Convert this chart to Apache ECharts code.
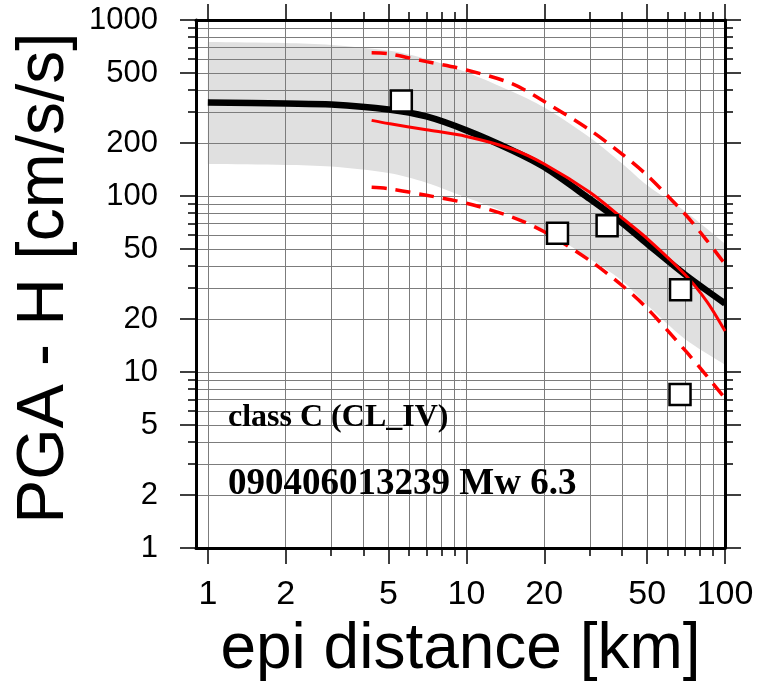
<!DOCTYPE html>
<html>
<head>
<meta charset="utf-8">
<script src="https://cdn.jsdelivr.net/npm/echarts@6/dist/echarts.min.js"></script>
<style>
  html, body { margin: 0; padding: 0; background: #fff; }
  #chart { width: 776px; height: 687px; }
</style>
</head>
<body>
<div id="chart"></div>
<script>
// Tick / gridline values (log axes)
const xMajorTicks = [1, 2, 5, 10, 20, 50, 100];
const xMinorTicks = [3, 4, 6, 7, 8, 9, 30, 40, 60, 70, 80, 90];
const yMajorTicks = [1, 2, 5, 10, 20, 50, 100, 200, 500, 1000];
const yMinorTicks = [3, 4, 6, 7, 8, 9, 30, 40, 60, 70, 80, 90, 300, 400, 600, 700, 800, 900];

// GMPE median and +/- sigma band (cm/s/s) vs epicentral distance (km)
const gmpeDistance = [1, 2, 3, 5, 7, 10, 15, 20, 30, 40, 50, 70, 100];
const gmpeMedian   = [340, 335, 331, 310, 283, 236, 182, 146, 96.2, 70.4, 53.5, 35.8, 24.5];
const bandUpper    = [751, 741, 722, 670, 600, 505, 392, 318, 215, 153, 115, 82, 53.6];
const bandLower    = [152, 150, 147, 135, 119, 98, 78, 64, 44, 33, 24, 15.4, 11];

// Regression fit (solid) and its +/- sigma (dashed)
const fitDistance  = [4.3, 5, 7, 10, 15, 20, 30, 40, 50, 70, 85, 100];
const fitMedian    = [269, 258, 238, 218, 185, 152, 105, 75, 57.3, 35.8, 25.2, 17.1];
const fitUpper     = [651, 643, 580, 520, 435, 344, 237, 173, 131, 79, 56, 41];
const fitLower     = [112, 110, 101, 91, 76, 62.6, 43, 31, 23, 13.3, 9.5, 7.1];

// Recorded stations: distance (km), PGA (cm/s/s)
const stationDistance = [5.6, 22.5, 35.0, 67.3, 67.0];
const stationPGA      = [346, 61.4, 67.7, 29.3, 7.46];

const pairs = (xs, ys) => xs.map((x, i) => [x, ys[i]]);

const chart = echarts.init(document.getElementById('chart'), null, { renderer: 'canvas' });

const tickStyle = { color: '#000', width: 1.5 };
const gridStyle = { color: '#7c7c7c', width: 1 };
const frameStyle = { color: '#000', width: 3 };

function xAxisDef(position, ticks, major, withLabels) {
  return {
    type: 'log', logBase: 10, min: 0.9, max: 100, position: position, z: 3,
    axisLine: { show: major, lineStyle: frameStyle },
    axisTick: { show: true, inside: false, length: major ? 16 : 8, customValues: ticks, lineStyle: tickStyle },
    axisLabel: withLabels ? {
      show: true, customValues: ticks, margin: 30, color: '#000', fontSize: 34,
      fontFamily: 'Liberation Sans', formatter: v => String(v)
    } : { show: false },
    splitLine: { show: position === 'bottom', lineStyle: gridStyle },
    minorTick: { show: false }, minorSplitLine: { show: false }
  };
}
function yAxisDef(position, ticks, major, withLabels) {
  return {
    type: 'log', logBase: 10, min: 1, max: 1000, position: position, z: 3,
    axisLine: { show: major, lineStyle: frameStyle },
    axisTick: { show: true, inside: false, length: major ? 16 : 8, customValues: ticks, lineStyle: tickStyle },
    axisLabel: withLabels ? {
      show: true, customValues: ticks, margin: 38, color: '#000', fontSize: 31,
      fontFamily: 'Liberation Sans', formatter: v => String(v)
    } : { show: false },
    splitLine: { show: position === 'left', lineStyle: gridStyle },
    minorTick: { show: false }, minorSplitLine: { show: false }
  };
}

const xAxes = [
  xAxisDef('bottom', xMajorTicks, true, true),
  xAxisDef('bottom', xMinorTicks, false, false),
  xAxisDef('top', xMajorTicks, true, false),
  xAxisDef('top', xMinorTicks, false, false)
];
Object.assign(xAxes[0], {
  name: 'epi distance [km]', nameLocation: 'middle', nameGap: 70,
  nameTextStyle: { fontSize: 64, color: '#000', fontFamily: 'Liberation Sans' }
});

const yAxes = [
  yAxisDef('left', yMajorTicks, true, true),
  yAxisDef('left', yMinorTicks, false, false),
  yAxisDef('right', yMajorTicks, true, false),
  yAxisDef('right', yMinorTicks, false, false)
];
Object.assign(yAxes[0], {
  name: 'PGA - H [cm/s/s]', nameLocation: 'middle', nameGap: 113,
  nameTextStyle: { fontSize: 66, color: '#000', fontFamily: 'Liberation Sans', padding: [0, 0, 0, 12] }
});

// Shaded sigma band: polygon along the upper edge, back along the lower edge.
// Corner points are doubled so the smoothed outline keeps square ends.
function renderBand(params, api) {
  const upper = gmpeDistance.map((d, i) => api.coord([d, bandUpper[i]]));
  const lower = gmpeDistance.map((d, i) => api.coord([d, bandLower[i]])).reverse();
  const pts = [upper[0]].concat(upper, [upper[upper.length - 1]],
                               [lower[0]], lower, [lower[lower.length - 1]]);
  const xs = pts.map(p => p[0]);
  const ys = pts.map(p => p[1]);
  const box = [[Math.min(...xs), Math.min(...ys)], [Math.max(...xs), Math.max(...ys)]];
  return {
    type: 'polygon',
    shape: { points: pts, smooth: 0.3, smoothConstraint: box },
    style: { fill: '#e0e0e0' }
  };
}

const option = {
  backgroundColor: '#fff',
  animation: false,
  grid: { left: 196, right: 51, top: 20, bottom: 136, containLabel: false },
  xAxis: xAxes,
  yAxis: yAxes,
  graphic: [
    { type: 'text', left: 228, top: 402, z: 10,
      style: { text: 'class C (CL_IV)', font: 'bold 32px "Liberation Serif"', fill: '#000' } },
    { type: 'text', left: 228, top: 466, z: 10,
      style: { text: '090406013239 Mw 6.3', font: 'bold 37px "Liberation Serif"', fill: '#000' } }
  ],
  series: [
    { name: 'band', type: 'custom', coordinateSystem: 'cartesian2d',
      xAxisIndex: 0, yAxisIndex: 0,
      data: [[gmpeDistance[0], gmpeMedian[0]]], renderItem: renderBand,
      clip: true, silent: true, z: 2 },
    { name: 'GMPE median', type: 'line', data: pairs(gmpeDistance, gmpeMedian),
      symbol: 'none', smooth: 0.3, lineStyle: { color: '#000', width: 6.5 }, z: 4 },
    { name: 'fit', type: 'line', data: pairs(fitDistance, fitMedian),
      symbol: 'none', smooth: 0.3, lineStyle: { color: '#ff0000', width: 3 }, z: 5 },
    { name: 'fit+sigma', type: 'line', data: pairs(fitDistance, fitUpper),
      symbol: 'none', smooth: 0.3, lineStyle: { color: '#ff0000', width: 3.5, type: [15, 9] }, z: 5 },
    { name: 'fit-sigma', type: 'line', data: pairs(fitDistance, fitLower),
      symbol: 'none', smooth: 0.3, lineStyle: { color: '#ff0000', width: 3.5, type: [15, 9] }, z: 5 },
    { name: 'stations', type: 'scatter', data: pairs(stationDistance, stationPGA),
      symbol: 'rect', symbolSize: 21,
      itemStyle: { color: '#fff', borderColor: '#000', borderWidth: 2.5, opacity: 1 }, z: 6 }
  ]
};
chart.setOption(option);
</script>
</body>
</html>
